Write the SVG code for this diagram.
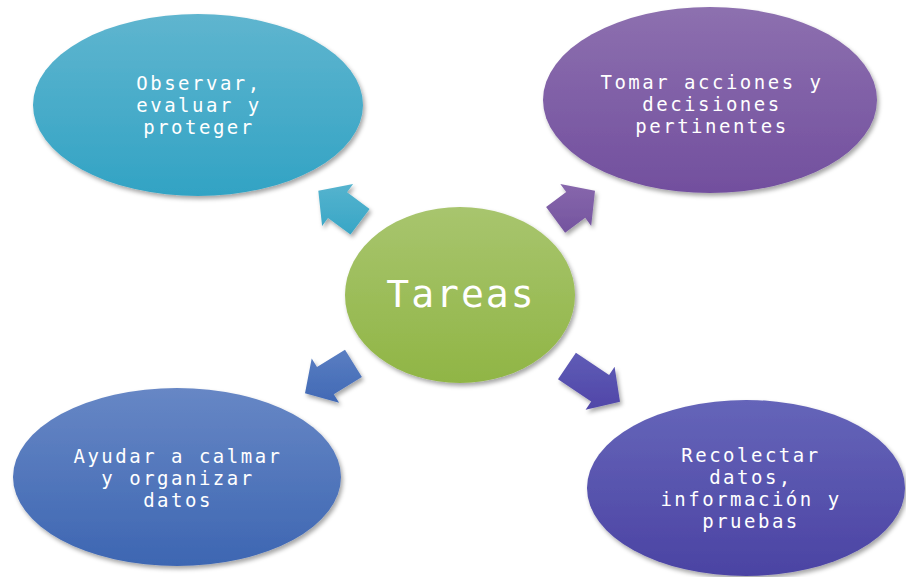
<svg xmlns="http://www.w3.org/2000/svg" width="906" height="577" viewBox="0 0 906 577">
<defs>
<linearGradient id="gTeal" x1="0" y1="0" x2="0" y2="1"><stop offset="0" stop-color="#5FB5CF"/><stop offset="1" stop-color="#32A3C4"/></linearGradient>
<linearGradient id="gPurple" x1="0" y1="0" x2="0" y2="1"><stop offset="0" stop-color="#8D70AF"/><stop offset="1" stop-color="#724F9E"/></linearGradient>
<linearGradient id="gGreen" x1="0" y1="0" x2="0" y2="1"><stop offset="0" stop-color="#A8C56E"/><stop offset="1" stop-color="#90B545"/></linearGradient>
<linearGradient id="gBlue" x1="0" y1="0" x2="0" y2="1"><stop offset="0" stop-color="#6787C5"/><stop offset="1" stop-color="#3D66B2"/></linearGradient>
<linearGradient id="gIndigo" x1="0" y1="0" x2="0" y2="1"><stop offset="0" stop-color="#6565B9"/><stop offset="1" stop-color="#4B43A3"/></linearGradient>
<linearGradient id="aTeal" x1="0" y1="0" x2="0" y2="1"><stop offset="0" stop-color="#55B3CE"/><stop offset="1" stop-color="#38A6C6"/></linearGradient>
<linearGradient id="aPurple" x1="0" y1="0" x2="0" y2="1"><stop offset="0" stop-color="#8767AC"/><stop offset="1" stop-color="#74549F"/></linearGradient>
<linearGradient id="aBlue" x1="0" y1="0" x2="0" y2="1"><stop offset="0" stop-color="#5A7EC2"/><stop offset="1" stop-color="#4169B5"/></linearGradient>
<linearGradient id="aIndigo" x1="0" y1="0" x2="0" y2="1"><stop offset="0" stop-color="#5F5CB6"/><stop offset="1" stop-color="#5046A8"/></linearGradient>
<filter id="sh" x="-10%" y="-10%" width="125%" height="130%"><feDropShadow dx="2" dy="3" stdDeviation="2" flood-color="#000" flood-opacity="0.35"/></filter>
</defs>
<style>
.lbl{font-family:"DejaVu Sans Mono","Liberation Mono",monospace;font-size:19px;fill:#ffffff;text-anchor:middle;letter-spacing:2.5px}
.big{font-family:"DejaVu Sans Mono","Liberation Mono",monospace;font-size:38px;fill:#ffffff;text-anchor:middle;letter-spacing:2px}
</style>
<rect width="906" height="577" fill="#ffffff"/>
<g id="connectors" filter="url(#sh)">
<polygon fill="url(#aTeal)" points="318.3,190.7 353.1,184.1 347.1,192.2 369.6,208.9 350.5,234.5 328.0,217.9 322.1,225.9"/>
<polygon fill="url(#aPurple)" points="595,190.7 560.3,184.1 566.2,192.1 546.1,207.0 565.1,232.7 585.2,217.8 591.2,225.9"/>
<polygon fill="url(#aBlue)" points="305,393.3 311.7,358.6 317.0,367.1 345.0,349.7 361.9,376.9 333.8,394.3 339.1,402.8"/>
<polygon fill="url(#aIndigo)" points="620,401.7 614.6,366.7 609.1,375.0 575.9,352.7 558.0,379.2 591.2,401.5 585.6,409.8"/>
</g>
<g id="node-observar">
<ellipse cx="198" cy="105" rx="165" ry="91" fill="url(#gTeal)" filter="url(#sh)"/>
<text class="lbl" x="199" y="90">Observar,</text>
<text class="lbl" x="199" y="112">evaluar y</text>
<text class="lbl" x="199" y="134">proteger</text>
</g>
<g id="node-tomar">
<ellipse cx="710" cy="100" rx="167" ry="93" fill="url(#gPurple)" filter="url(#sh)"/>
<text class="lbl" x="712" y="89">Tomar acciones y</text>
<text class="lbl" x="712" y="111">decisiones</text>
<text class="lbl" x="712" y="133">pertinentes</text>
</g>
<g id="node-tareas">
<ellipse cx="460" cy="295" rx="115" ry="88" fill="url(#gGreen)" filter="url(#sh)"/>
<text class="big" x="461" y="307">Tareas</text>
</g>
<g id="node-ayudar">
<ellipse cx="177" cy="477" rx="164" ry="89" fill="url(#gBlue)" filter="url(#sh)"/>
<text class="lbl" x="178" y="463">Ayudar a calmar</text>
<text class="lbl" x="178" y="485">y organizar</text>
<text class="lbl" x="178" y="507">datos</text>
</g>
<g id="node-recolectar">
<ellipse cx="746" cy="488" rx="159" ry="88" fill="url(#gIndigo)" filter="url(#sh)"/>
<text class="lbl" x="751" y="462">Recolectar</text>
<text class="lbl" x="751" y="484">datos,</text>
<text class="lbl" x="751" y="506">información y</text>
<text class="lbl" x="751" y="528">pruebas</text>
</g>
</svg>
